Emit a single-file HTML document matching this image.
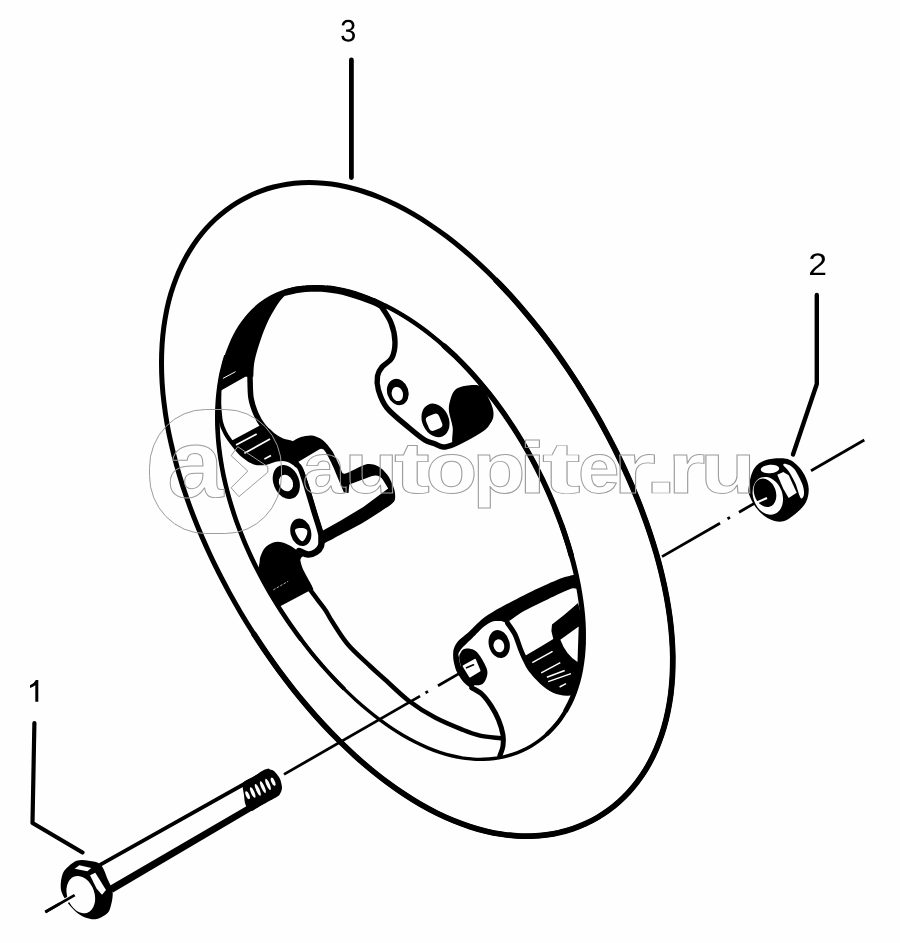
<!DOCTYPE html>
<html><head><meta charset="utf-8"><title>diagram</title>
<style>html,body{margin:0;padding:0;background:#fefefe;}svg{display:block;}</style></head>
<body><svg width="900" height="943" viewBox="0 0 900 943">
<defs><filter id="soft" x="0" y="0" width="900" height="943" filterUnits="userSpaceOnUse"><feGaussianBlur stdDeviation="0.45"/></filter></defs>
<rect width="900" height="943" fill="#fefefe"/>
<g filter="url(#soft)">
<rect width="900" height="943" fill="#fefefe"/>
<path d="M236.7,202.8 C240.5,200.5 244.4,198.3 248.4,196.4 C252.4,194.4 256.5,192.6 260.7,191.1 C264.9,189.5 269.2,188.1 273.6,187.0 C278.1,185.9 282.6,184.9 287.2,184.2 C291.9,183.5 296.6,183.0 301.5,182.7 C306.3,182.5 311.2,182.5 316.2,182.7 C321.3,182.9 326.4,183.4 331.5,184.1 C336.7,184.8 342.0,185.8 347.3,187.0 C352.6,188.3 358.0,189.7 363.5,191.5 C368.9,193.2 374.4,195.3 379.9,197.5 C385.5,199.8 391.0,202.3 396.6,205.1 C402.2,207.9 407.8,210.9 413.4,214.2 C419.0,217.4 424.6,221.0 430.1,224.7 C435.7,228.4 441.3,232.4 446.8,236.6 C452.3,240.8 457.8,245.2 463.3,249.7 C468.7,254.3 474.1,259.1 479.5,264.1 C484.8,269.0 490.1,274.1 495.3,279.4 C500.5,284.7 505.6,290.1 510.7,295.7 C515.7,301.3 520.7,307.0 525.6,312.8 C530.5,318.6 535.3,324.5 540.0,330.6 C544.7,336.6 549.3,342.8 553.9,349.0 C558.4,355.2 562.8,361.6 567.2,368.0 C571.5,374.4 575.8,380.9 579.9,387.4 C584.0,394.0 588.1,400.6 592.0,407.3 C595.9,414.0 599.8,420.7 603.5,427.6 C607.2,434.4 610.8,441.2 614.3,448.1 C617.8,455.1 621.2,462.0 624.4,469.0 C627.6,476.0 630.8,483.1 633.7,490.1 C636.7,497.2 639.6,504.3 642.2,511.4 C644.9,518.5 647.5,525.7 649.8,532.8 C652.2,539.9 654.4,547.0 656.5,554.2 C658.5,561.3 660.4,568.4 662.0,575.4 C663.7,582.5 665.2,589.5 666.5,596.5 C667.8,603.4 668.9,610.4 669.8,617.2 C670.7,624.0 671.4,630.8 671.9,637.5 C672.4,644.1 672.7,650.7 672.8,657.1 C672.8,663.5 672.7,669.9 672.4,676.0 C672.0,682.2 671.5,688.3 670.8,694.2 C670.0,700.1 669.1,705.8 667.9,711.4 C666.8,716.9 665.5,722.3 663.9,727.6 C662.4,732.8 660.7,737.9 658.8,742.7 C657.0,747.6 654.9,752.3 652.7,756.8 C650.5,761.3 648.1,765.6 645.6,769.7 C643.0,773.9 640.3,777.8 637.5,781.6 C634.7,785.3 631.7,788.9 628.6,792.3 C625.5,795.6 622.3,798.8 618.9,801.8 C615.6,804.8 612.1,807.6 608.5,810.3 C604.9,812.9 601.2,815.3 597.3,817.6 C593.5,819.8 589.5,821.9 585.5,823.7 C581.4,825.6 577.3,827.2 573.0,828.7 C568.8,830.1 564.4,831.4 559.9,832.4 C555.5,833.5 550.9,834.3 546.2,834.9 C541.6,835.5 536.8,835.9 532.0,836.1 C527.1,836.2 522.2,836.2 517.2,835.9 C512.1,835.6 507.0,835.1 501.9,834.3 C496.7,833.5 491.4,832.5 486.1,831.2 C480.8,830.0 475.5,828.5 470.1,826.7 C464.7,824.9 459.2,822.9 453.7,820.7 C448.2,818.4 442.7,815.9 437.1,813.2 C431.6,810.5 426.0,807.5 420.4,804.3 C414.9,801.1 409.3,797.6 403.8,793.9 C398.2,790.3 392.7,786.4 387.2,782.3 C381.6,778.2 376.2,773.9 370.7,769.4 C365.3,764.9 359.9,760.2 354.5,755.3 C349.2,750.5 343.9,745.4 338.7,740.3 C333.5,735.1 328.3,729.7 323.2,724.2 C318.1,718.7 313.1,713.1 308.2,707.3 C303.3,701.6 298.4,695.7 293.6,689.7 C288.9,683.7 284.2,677.6 279.6,671.4 C275.0,665.2 270.6,658.9 266.2,652.5 C261.8,646.1 257.5,639.6 253.3,633.1 C249.1,626.5 245.0,619.9 241.0,613.2 C237.1,606.5 233.2,599.7 229.4,592.9 C225.7,586.0 222.0,579.1 218.5,572.2 C215.0,565.2 211.6,558.2 208.4,551.2 C205.2,544.2 202.0,537.1 199.1,530.0 C196.1,522.9 193.3,515.7 190.6,508.6 C188.0,501.5 185.5,494.3 183.1,487.2 C180.8,480.0 178.6,472.9 176.7,465.7 C174.7,458.6 172.9,451.5 171.3,444.4 C169.7,437.4 168.2,430.4 167.0,423.4 C165.8,416.5 164.8,409.6 164.0,402.8 C163.1,396.0 162.5,389.3 162.1,382.6 C161.7,376.0 161.5,369.5 161.5,363.1 C161.5,356.8 161.7,350.5 162.1,344.4 C162.5,338.2 163.1,332.2 163.9,326.4 C164.7,320.6 165.7,314.9 166.8,309.4 C168.0,303.9 169.4,298.5 170.9,293.3 C172.5,288.2 174.2,283.1 176.1,278.3 C177.9,273.5 180.0,268.8 182.2,264.3 C184.4,259.8 186.8,255.5 189.3,251.4 C191.8,247.3 194.4,243.3 197.2,239.5 C200.0,235.8 202.9,232.2 206.0,228.7 C209.0,225.3 212.2,222.1 215.5,219.0 C218.8,215.9 222.2,213.1 225.7,210.4 C229.3,207.7 232.9,205.1 236.7,202.8Z" fill="none" stroke="#000" stroke-width="5.0" stroke-linecap="round" stroke-linejoin="round" />
<path d="M495.3,279.4 C497.8,282.1 505.6,290.1 510.7,295.7 C515.7,301.3 520.7,307.0 525.6,312.8 C530.5,318.6 535.3,324.5 540.0,330.6 C544.7,336.6 549.3,342.8 553.9,349.0 C558.4,355.2 562.8,361.6 567.2,368.0 C571.5,374.4 575.8,380.9 579.9,387.4 C584.0,394.0 588.1,400.6 592.0,407.3 C595.9,414.0 599.8,420.7 603.5,427.6 C607.2,434.4 610.8,441.2 614.3,448.1 C617.8,455.1 621.2,462.0 624.4,469.0 C627.6,476.0 630.8,483.1 633.7,490.1 C636.7,497.2 639.6,504.3 642.2,511.4 C644.9,518.5 647.5,525.7 649.8,532.8 C652.2,539.9 654.4,547.0 656.5,554.2 C658.5,561.3 660.4,568.4 662.0,575.4 C663.7,582.5 665.2,589.5 666.5,596.5 C667.8,603.4 668.9,610.4 669.8,617.2 C670.7,624.0 671.4,630.8 671.9,637.5 C672.4,644.1 672.7,650.7 672.8,657.1 C672.8,663.5 672.7,669.9 672.4,676.0 C672.0,682.2 671.5,688.3 670.8,694.2 C670.0,700.1 669.1,705.8 667.9,711.4 C666.8,716.9 665.5,722.3 663.9,727.6 C662.4,732.8 660.7,737.9 658.8,742.7 C657.0,747.6 654.9,752.3 652.7,756.8 C650.5,761.3 648.1,765.6 645.6,769.7 C643.0,773.9 640.3,777.8 637.5,781.6 C634.7,785.3 631.7,788.9 628.6,792.3 C625.5,795.6 622.3,798.8 618.9,801.8 C615.6,804.8 612.1,807.6 608.5,810.3 C604.9,812.9 601.2,815.3 597.3,817.6 C593.5,819.8 589.5,821.9 585.5,823.7 C581.4,825.6 577.3,827.2 573.0,828.7 C568.8,830.1 564.4,831.4 559.9,832.4 C555.5,833.5 550.9,834.3 546.2,834.9 C541.6,835.5 536.8,835.9 532.0,836.1 C527.1,836.2 522.2,836.2 517.2,835.9 C512.1,835.6 507.0,835.1 501.9,834.3 C496.7,833.5 491.4,832.5 486.1,831.2 C480.8,830.0 475.5,828.5 470.1,826.7 C464.7,824.9 459.2,822.9 453.7,820.7 C448.2,818.4 442.7,815.9 437.1,813.2 C431.6,810.5 426.0,807.5 420.4,804.3 C414.9,801.1 409.3,797.6 403.8,793.9 C398.2,790.3 392.7,786.4 387.2,782.3 C381.6,778.2 376.2,773.9 370.7,769.4 C365.3,764.9 359.9,760.2 354.5,755.3 C349.2,750.5 343.9,745.4 338.7,740.3 C333.5,735.1 328.3,729.7 323.2,724.2 C318.1,718.7 313.1,713.1 308.2,707.3 C303.3,701.6 298.4,695.7 293.6,689.7 C288.9,683.7 284.2,677.6 279.6,671.4 C275.0,665.2 270.6,658.9 266.2,652.5 C261.8,646.1 255.4,636.3 253.3,633.1" fill="none" stroke="#000" stroke-width="5.7" stroke-linecap="butt" stroke-linejoin="round" />
<path d="M268.1,298.8 C270.8,297.1 273.7,295.6 276.6,294.3 C279.6,293.0 282.6,291.8 285.8,290.8 C288.9,289.9 292.1,289.1 295.4,288.4 C298.7,287.8 302.0,287.3 305.5,287.1 C308.9,286.8 312.4,286.7 316.0,286.7 C319.5,286.8 323.1,287.0 326.8,287.4 C330.5,287.8 334.2,288.4 338.0,289.1 C341.7,289.8 345.5,290.7 349.4,291.7 C353.2,292.8 357.1,294.0 361.0,295.3 C364.9,296.7 368.8,298.2 372.7,299.9 C376.7,301.5 380.6,303.4 384.6,305.3 C388.6,307.3 392.6,309.4 396.6,311.7 C400.6,314.0 404.6,316.4 408.6,318.9 C412.6,321.5 416.6,324.2 420.5,327.1 C424.5,330.0 428.5,333.0 432.4,336.1 C436.4,339.3 440.3,342.5 444.2,346.0 C448.1,349.4 451.9,353.0 455.8,356.6 C459.6,360.3 463.3,364.1 467.1,368.1 C470.8,372.0 474.4,376.1 478.0,380.2 C481.6,384.4 485.2,388.6 488.6,393.0 C492.1,397.4 495.5,401.8 498.8,406.4 C502.1,410.9 505.4,415.5 508.5,420.2 C511.7,424.9 514.8,429.6 517.7,434.4 C520.7,439.2 523.6,444.1 526.4,449.0 C529.2,453.9 532.0,458.9 534.6,463.9 C537.2,468.9 539.7,473.9 542.2,478.9 C544.6,484.0 546.9,489.0 549.2,494.1 C551.4,499.2 553.6,504.3 555.6,509.4 C557.7,514.6 559.6,519.7 561.5,524.8 C563.3,529.9 565.1,535.1 566.7,540.2 C568.4,545.3 569.9,550.4 571.3,555.5 C572.8,560.6 574.1,565.7 575.3,570.8 C576.5,575.8 577.5,580.9 578.5,585.9 C579.4,590.9 580.2,595.8 580.9,600.8 C581.6,605.7 582.2,610.5 582.6,615.3 C583.0,620.1 583.3,624.9 583.4,629.5 C583.5,634.2 583.5,638.8 583.4,643.3 C583.2,647.8 582.9,652.2 582.5,656.5 C582.0,660.7 581.4,664.9 580.7,669.0 C580.0,673.1 579.1,677.0 578.1,680.8 C577.0,684.6 575.9,688.3 574.6,691.9 C573.3,695.4 571.9,698.9 570.3,702.2 C568.8,705.4 567.1,708.6 565.3,711.6 C563.5,714.6 561.6,717.5 559.6,720.2 C557.6,722.9 555.4,725.5 553.2,727.9 C551.0,730.4 548.7,732.7 546.3,734.9 C543.9,737.0 541.4,739.1 538.8,740.9 C536.2,742.8 533.5,744.6 530.8,746.2 C528.0,747.8 525.2,749.3 522.2,750.6 C519.3,751.9 516.3,753.1 513.3,754.1 C510.2,755.2 507.0,756.1 503.8,756.8 C500.6,757.5 497.3,758.1 494.0,758.5 C490.6,759.0 487.2,759.2 483.7,759.3 C480.2,759.4 476.6,759.4 473.0,759.1 C469.4,758.9 465.7,758.4 462.0,757.9 C458.2,757.3 454.4,756.5 450.6,755.5 C446.8,754.6 442.9,753.4 439.0,752.1 C435.1,750.8 431.2,749.3 427.2,747.6 C423.2,745.9 419.3,744.1 415.3,742.1 C411.3,740.0 407.3,737.8 403.3,735.5 C399.2,733.1 395.2,730.6 391.2,727.9 C387.2,725.2 383.3,722.4 379.3,719.4 C375.3,716.4 371.4,713.3 367.5,710.0 C363.6,706.8 359.7,703.4 355.8,699.9 C352.0,696.4 348.1,692.8 344.4,689.1 C340.6,685.4 336.8,681.5 333.2,677.6 C329.5,673.7 325.8,669.7 322.2,665.5 C318.7,661.4 315.1,657.2 311.6,652.9 C308.1,648.6 304.7,644.3 301.4,639.8 C298.0,635.4 294.7,630.8 291.5,626.2 C288.2,621.6 285.1,617.0 282.0,612.2 C278.9,607.5 275.9,602.7 273.0,597.8 C270.0,593.0 267.2,588.0 264.5,583.1 C261.7,578.1 259.1,573.1 256.5,568.0 C254.0,563.0 251.5,557.9 249.2,552.7 C246.9,547.6 244.6,542.5 242.6,537.3 C240.5,532.1 238.5,527.0 236.6,521.8 C234.8,516.6 233.1,511.4 231.5,506.3 C229.9,501.1 228.4,495.9 227.1,490.8 C225.8,485.7 224.6,480.6 223.5,475.5 C222.5,470.5 221.6,465.5 220.8,460.5 C220.0,455.6 219.4,450.7 218.8,445.8 C218.3,441.0 217.9,436.2 217.7,431.5 C217.4,426.8 217.3,422.1 217.3,417.6 C217.3,413.0 217.4,408.5 217.7,404.1 C217.9,399.7 218.3,395.4 218.8,391.2 C219.3,387.0 219.9,382.8 220.6,378.8 C221.3,374.8 222.2,370.8 223.2,367.0 C224.1,363.2 225.2,359.4 226.4,355.8 C227.6,352.2 228.9,348.6 230.3,345.3 C231.7,341.9 233.2,338.6 234.9,335.4 C236.5,332.3 238.3,329.2 240.2,326.3 C242.1,323.5 244.1,320.7 246.2,318.1 C248.3,315.5 250.5,313.0 252.8,310.7 C255.2,308.4 257.6,306.2 260.1,304.2 C262.7,302.3 265.3,300.4 268.1,298.8Z" fill="none" stroke="#000" stroke-width="3.4" stroke-linecap="round" stroke-linejoin="round" />
<path d="M326.8,287.4 C328.7,287.7 334.2,288.4 338.0,289.1 C341.7,289.8 345.5,290.7 349.4,291.7 C353.2,292.8 357.1,294.0 361.0,295.3 C364.9,296.7 368.8,298.2 372.7,299.9 C376.7,301.5 380.6,303.4 384.6,305.3 C388.6,307.3 392.6,309.4 396.6,311.7 C400.6,314.0 404.6,316.4 408.6,318.9 C412.6,321.5 416.6,324.2 420.5,327.1 C424.5,330.0 428.5,333.0 432.4,336.1 C436.4,339.3 440.3,342.5 444.2,346.0 C448.1,349.4 451.9,353.0 455.8,356.6 C459.6,360.3 463.3,364.1 467.1,368.1 C470.8,372.0 474.4,376.1 478.0,380.2 C481.6,384.4 485.2,388.6 488.6,393.0 C492.1,397.4 495.5,401.8 498.8,406.4 C502.1,410.9 505.4,415.5 508.5,420.2 C511.7,424.9 514.8,429.6 517.7,434.4 C520.7,439.2 523.6,444.1 526.4,449.0 C529.2,453.9 532.0,458.9 534.6,463.9 C537.2,468.9 539.7,473.9 542.2,478.9 C544.6,484.0 546.9,489.0 549.2,494.1 C551.4,499.2 553.6,504.3 555.6,509.4 C557.7,514.6 559.6,519.7 561.5,524.8 C563.3,529.9 565.1,535.1 566.7,540.2 C568.4,545.3 570.6,553.0 571.3,555.5" fill="none" stroke="#000" stroke-width="4.4" stroke-linecap="butt" stroke-linejoin="round" />
<path d="M444.2,346.0 C446.1,347.7 451.9,353.0 455.8,356.6 C459.6,360.3 463.3,364.1 467.1,368.1 C470.8,372.0 474.4,376.1 478.0,380.2 C481.6,384.4 485.2,388.6 488.6,393.0 C492.1,397.4 495.5,401.8 498.8,406.4 C502.1,410.9 505.4,415.5 508.5,420.2 C511.7,424.9 514.8,429.6 517.7,434.4 C520.7,439.2 523.6,444.1 526.4,449.0 C529.2,453.9 532.0,458.9 534.6,463.9 C537.2,468.9 539.7,473.9 542.2,478.9 C544.6,484.0 546.9,489.0 549.2,494.1 C551.4,499.2 553.6,504.3 555.6,509.4 C557.7,514.6 559.6,519.7 561.5,524.8 C563.3,529.9 565.1,535.1 566.7,540.2 C568.4,545.3 570.6,553.0 571.3,555.5" fill="none" stroke="#000" stroke-width="5.4" stroke-linecap="round" stroke-linejoin="round" />
<path d="M301.4,639.8 C299.7,637.6 294.7,630.8 291.5,626.2 C288.2,621.6 285.1,617.0 282.0,612.2 C278.9,607.5 275.9,602.7 273.0,597.8 C270.0,593.0 267.2,588.0 264.5,583.1 C261.7,578.1 259.1,573.1 256.5,568.0 C254.0,563.0 251.5,557.9 249.2,552.7 C246.9,547.6 244.6,542.5 242.6,537.3 C240.5,532.1 238.5,527.0 236.6,521.8 C234.8,516.6 233.1,511.4 231.5,506.3 C229.9,501.1 228.4,495.9 227.1,490.8 C225.8,485.7 224.6,480.6 223.5,475.5 C222.5,470.5 221.6,465.5 220.8,460.5 C220.0,455.6 219.4,450.7 218.8,445.8 C218.3,441.0 217.9,436.2 217.7,431.5 C217.4,426.8 217.3,422.1 217.3,417.6 C217.3,413.0 217.4,408.5 217.7,404.1 C217.9,399.7 218.3,395.4 218.8,391.2 C219.3,387.0 219.9,382.8 220.6,378.8 C221.3,374.8 222.2,370.8 223.2,367.0 C224.1,363.2 225.8,357.7 226.4,355.8" fill="none" stroke="#000" stroke-width="4.6" stroke-linecap="butt" stroke-linejoin="round" />
<path d="M344.4,689.1 C342.5,687.2 336.8,681.5 333.2,677.6 C329.5,673.7 325.8,669.7 322.2,665.5 C318.7,661.4 315.1,657.2 311.6,652.9 C308.1,648.6 303.1,642.0 301.4,639.8" fill="none" stroke="#000" stroke-width="4.0" stroke-linecap="butt" stroke-linejoin="round" />
<clipPath id="cin"><path d="M268.1,298.8 C270.8,297.1 273.7,295.6 276.6,294.3 C279.6,293.0 282.6,291.8 285.8,290.8 C288.9,289.9 292.1,289.1 295.4,288.4 C298.7,287.8 302.0,287.3 305.5,287.1 C308.9,286.8 312.4,286.7 316.0,286.7 C319.5,286.8 323.1,287.0 326.8,287.4 C330.5,287.8 334.2,288.4 338.0,289.1 C341.7,289.8 345.5,290.7 349.4,291.7 C353.2,292.8 357.1,294.0 361.0,295.3 C364.9,296.7 368.8,298.2 372.7,299.9 C376.7,301.5 380.6,303.4 384.6,305.3 C388.6,307.3 392.6,309.4 396.6,311.7 C400.6,314.0 404.6,316.4 408.6,318.9 C412.6,321.5 416.6,324.2 420.5,327.1 C424.5,330.0 428.5,333.0 432.4,336.1 C436.4,339.3 440.3,342.5 444.2,346.0 C448.1,349.4 451.9,353.0 455.8,356.6 C459.6,360.3 463.3,364.1 467.1,368.1 C470.8,372.0 474.4,376.1 478.0,380.2 C481.6,384.4 485.2,388.6 488.6,393.0 C492.1,397.4 495.5,401.8 498.8,406.4 C502.1,410.9 505.4,415.5 508.5,420.2 C511.7,424.9 514.8,429.6 517.7,434.4 C520.7,439.2 523.6,444.1 526.4,449.0 C529.2,453.9 532.0,458.9 534.6,463.9 C537.2,468.9 539.7,473.9 542.2,478.9 C544.6,484.0 546.9,489.0 549.2,494.1 C551.4,499.2 553.6,504.3 555.6,509.4 C557.7,514.6 559.6,519.7 561.5,524.8 C563.3,529.9 565.1,535.1 566.7,540.2 C568.4,545.3 569.9,550.4 571.3,555.5 C572.8,560.6 574.1,565.7 575.3,570.8 C576.5,575.8 577.5,580.9 578.5,585.9 C579.4,590.9 580.2,595.8 580.9,600.8 C581.6,605.7 582.2,610.5 582.6,615.3 C583.0,620.1 583.3,624.9 583.4,629.5 C583.5,634.2 583.5,638.8 583.4,643.3 C583.2,647.8 582.9,652.2 582.5,656.5 C582.0,660.7 581.4,664.9 580.7,669.0 C580.0,673.1 579.1,677.0 578.1,680.8 C577.0,684.6 575.9,688.3 574.6,691.9 C573.3,695.4 571.9,698.9 570.3,702.2 C568.8,705.4 567.1,708.6 565.3,711.6 C563.5,714.6 561.6,717.5 559.6,720.2 C557.6,722.9 555.4,725.5 553.2,727.9 C551.0,730.4 548.7,732.7 546.3,734.9 C543.9,737.0 541.4,739.1 538.8,740.9 C536.2,742.8 533.5,744.6 530.8,746.2 C528.0,747.8 525.2,749.3 522.2,750.6 C519.3,751.9 516.3,753.1 513.3,754.1 C510.2,755.2 507.0,756.1 503.8,756.8 C500.6,757.5 497.3,758.1 494.0,758.5 C490.6,759.0 487.2,759.2 483.7,759.3 C480.2,759.4 476.6,759.4 473.0,759.1 C469.4,758.9 465.7,758.4 462.0,757.9 C458.2,757.3 454.4,756.5 450.6,755.5 C446.8,754.6 442.9,753.4 439.0,752.1 C435.1,750.8 431.2,749.3 427.2,747.6 C423.2,745.9 419.3,744.1 415.3,742.1 C411.3,740.0 407.3,737.8 403.3,735.5 C399.2,733.1 395.2,730.6 391.2,727.9 C387.2,725.2 383.3,722.4 379.3,719.4 C375.3,716.4 371.4,713.3 367.5,710.0 C363.6,706.8 359.7,703.4 355.8,699.9 C352.0,696.4 348.1,692.8 344.4,689.1 C340.6,685.4 336.8,681.5 333.2,677.6 C329.5,673.7 325.8,669.7 322.2,665.5 C318.7,661.4 315.1,657.2 311.6,652.9 C308.1,648.6 304.7,644.3 301.4,639.8 C298.0,635.4 294.7,630.8 291.5,626.2 C288.2,621.6 285.1,617.0 282.0,612.2 C278.9,607.5 275.9,602.7 273.0,597.8 C270.0,593.0 267.2,588.0 264.5,583.1 C261.7,578.1 259.1,573.1 256.5,568.0 C254.0,563.0 251.5,557.9 249.2,552.7 C246.9,547.6 244.6,542.5 242.6,537.3 C240.5,532.1 238.5,527.0 236.6,521.8 C234.8,516.6 233.1,511.4 231.5,506.3 C229.9,501.1 228.4,495.9 227.1,490.8 C225.8,485.7 224.6,480.6 223.5,475.5 C222.5,470.5 221.6,465.5 220.8,460.5 C220.0,455.6 219.4,450.7 218.8,445.8 C218.3,441.0 217.9,436.2 217.7,431.5 C217.4,426.8 217.3,422.1 217.3,417.6 C217.3,413.0 217.4,408.5 217.7,404.1 C217.9,399.7 218.3,395.4 218.8,391.2 C219.3,387.0 219.9,382.8 220.6,378.8 C221.3,374.8 222.2,370.8 223.2,367.0 C224.1,363.2 225.2,359.4 226.4,355.8 C227.6,352.2 228.9,348.6 230.3,345.3 C231.7,341.9 233.2,338.6 234.9,335.4 C236.5,332.3 238.3,329.2 240.2,326.3 C242.1,323.5 244.1,320.7 246.2,318.1 C248.3,315.5 250.5,313.0 252.8,310.7 C255.2,308.4 257.6,306.2 260.1,304.2 C262.7,302.3 265.3,300.4 268.1,298.8Z"/></clipPath>
<path d="M305.0,287.0 C302.0,288.2 292.1,290.3 287.0,294.0 C281.9,297.7 278.5,302.9 274.7,309.0 C270.9,315.1 267.3,322.1 264.0,330.4 C260.7,338.7 256.8,351.3 255.0,359.0 C253.2,366.7 253.6,373.8 253.3,376.7 L245.3,376.7 L215,394 L190,394 L190,250 L305,250Z" fill="#000" clip-path="url(#cin)"/>
<path d="M223,378.4 L235.5,371.7" stroke="#fefefe" stroke-width="1" fill="none"/>
<path d="M250.0,377.0 C250.2,380.5 250.0,391.8 251.0,398.0 C252.0,404.2 254.0,409.3 256.0,414.0 C258.0,418.7 260.3,422.5 263.0,426.0 C265.7,429.5 268.8,432.5 272.0,435.0 C275.2,437.5 279.0,439.7 282.0,441.0 C285.0,442.3 288.7,442.7 290.0,443.0" fill="none" stroke="#000" stroke-width="5.5" stroke-linecap="round" stroke-linejoin="round" />
<path d="M219.5,388.0 C219.5,390.8 219.1,399.3 219.3,405.0 C219.6,410.7 220.0,417.3 221.0,422.0 C222.0,426.7 223.5,429.5 225.3,433.0 C227.1,436.5 229.1,439.2 232.0,443.0 C234.9,446.8 239.3,452.4 243.0,455.6 C246.7,458.9 250.6,461.3 254.4,462.5 C258.2,463.7 261.9,463.5 265.6,463.0 C269.3,462.5 273.1,460.0 276.7,459.5 C280.3,459.0 284.2,458.9 287.5,459.8 C290.8,460.7 295.2,464.1 296.7,465.0" fill="none" stroke="#000" stroke-width="4.0" stroke-linecap="round" stroke-linejoin="round" />
<path d="M262.0,425.0 C263.1,425.6 267.7,427.5 270.0,429.3 C272.3,431.1 276.6,437.0 279.3,438.7 C282.0,440.4 287.3,442.0 290.2,441.8 C293.1,441.6 298.1,437.8 301.0,437.0 C303.9,436.2 309.1,435.2 312.0,435.6 C314.9,436.0 320.2,438.1 322.9,440.2 C325.6,442.3 329.9,447.5 332.2,451.0 C334.5,454.5 338.3,463.7 340.0,466.7 C341.7,469.7 341.2,474.0 344.7,473.7 C348.2,473.4 361.8,465.2 366.4,464.3 C371.0,463.4 376.0,465.1 378.9,466.7 C381.8,468.3 386.1,472.9 388.2,476.0 C390.3,479.1 393.6,486.7 394.4,490.0 C395.2,493.3 395.7,498.4 394.4,500.9 C393.1,503.4 389.1,505.7 385.0,508.6 C380.9,511.5 369.3,519.1 363.3,522.6 C357.3,526.1 345.2,532.2 340.0,535.0 C334.8,537.8 326.1,542.4 324.0,543.5 L321.5,538.0 L320.0,531.2 L314.0,511.8 L307.0,488.4 L300.5,469.0 L297.0,465.0 L287.5,459.8 L276.7,459.5 L265.6,463.0 L254.4,462.5 L243.0,455.6 L232.0,443.0 L231.0,441.0 L259.0,426.0Z" fill="#000" />
<path d="M298.5,461.8 L319.5,449.3 Q323,447.6 325.6,452 Q331.5,462 337,476 L343.9,492.6 L348.5,493 L349.3,484.5 L372,476 Q379.5,474 383,480 L388.2,488.4 L363.3,507 L340,521 L323,530.4 L317.5,513.3 L310.5,490 L304,471.3Z" fill="#fefefe" />
<path d="M297.0,465.0 C297.6,465.7 298.8,465.1 300.5,469.0 C302.2,472.9 304.8,481.3 307.0,488.4 C309.2,495.5 311.8,504.7 314.0,511.8 C316.2,518.9 318.7,526.3 320.0,531.2 C321.3,536.1 321.7,539.4 322.0,541.0" fill="none" stroke="#000" stroke-width="5.4" stroke-linecap="round" stroke-linejoin="round" />
<path d="M321.5,538.0 C321.4,539.3 321.9,543.7 321.0,546.0 C320.1,548.3 318.2,550.6 316.0,552.0 C313.8,553.4 310.8,554.7 308.0,554.5 C305.2,554.3 300.5,551.6 299.0,551.0" fill="none" stroke="#000" stroke-width="6.5" stroke-linecap="round" stroke-linejoin="round" />
<path d="M236.0,445.0 L256.7,434.0" stroke="#fefefe" stroke-width="1.7" fill="none"/>
<path d="M244.4,453.3 L270.0,439.0" stroke="#fefefe" stroke-width="1.7" fill="none"/>
<path d="M264.4,459.0 L271.0,455.6" stroke="#fefefe" stroke-width="1.7" fill="none"/>
<ellipse cx="286.3" cy="482" rx="12.8" ry="17.6" transform="rotate(-22 286.3 482)" fill="#000"/>
<ellipse cx="286" cy="483" rx="6.8" ry="8.6" transform="rotate(-25 286 483)" fill="#fefefe"/>
<ellipse cx="300.8" cy="532.3" rx="10.3" ry="14" transform="rotate(-15 300.8 532.3)" fill="#000"/>
<path d="M295.0,530.5 C295.0,529.0 296.5,528.7 298.0,528.3 C299.5,527.9 302.4,527.8 304.0,528.3 C305.6,528.8 307.0,529.5 307.3,531.0 C307.6,532.5 306.8,535.3 306.0,537.0 C305.2,538.7 303.8,541.2 302.5,541.3 C301.2,541.4 299.2,539.3 298.0,537.5 C296.8,535.7 295.0,532.0 295.0,530.5Z" fill="#fefefe" />
<path d="M258.5,568.5 C258.7,567.4 259.3,564.0 259.6,562.0 C259.9,560.0 259.6,558.9 260.5,556.5 C261.4,554.1 262.7,550.2 264.8,547.9 C266.9,545.5 270.3,543.3 273.3,542.4 C276.3,541.5 279.7,541.8 282.7,542.4 C285.7,543.0 288.6,544.9 291.2,546.3 C293.8,547.7 295.9,549.8 298.2,551.0 C300.4,552.2 304.3,552.0 304.7,553.3 C305.1,554.6 301.4,557.2 300.7,558.7 C300.0,560.2 300.4,560.5 300.7,562.0 C301.0,563.5 301.6,565.8 302.5,568.0 C303.4,570.2 304.5,572.3 306.0,575.1 C307.5,577.9 310.6,583.4 311.5,585.0 L313.5,589.5 L308,591.5 L279.3,606.7 Z" fill="#000" />
<path d="M273.3,589.9 L288.1,581.3" stroke="#fefefe" stroke-width="0.7" stroke-dasharray="2.5 1.5" fill="none"/>
<path d="M307.5,585.0 C307.9,585.7 308.1,586.6 309.7,589.0 C311.3,591.4 314.6,595.6 317.3,599.3 C320.0,603.0 323.6,607.3 326.0,611.0 C328.4,614.7 328.4,615.8 332.0,621.3 C335.6,626.8 341.2,636.5 347.5,644.0 C353.8,651.5 363.7,660.0 370.0,666.0 C376.3,672.0 379.0,674.2 385.5,680.0 C392.0,685.8 400.7,694.7 409.0,701.0 C417.3,707.3 426.4,713.0 435.5,717.8 C444.6,722.6 455.9,727.0 463.3,730.0 C470.7,733.0 473.8,734.2 480.0,735.6 C486.2,737.0 497.1,737.8 500.5,738.3" fill="none" stroke="#000" stroke-width="4.5" stroke-linecap="round" stroke-linejoin="round" />
<path d="M286.1,292.4 C287.7,292.0 292.4,290.6 295.7,290.0 C298.9,289.4 302.2,288.9 305.6,288.7 C309.0,288.4 312.4,288.3 315.9,288.3 C319.4,288.4 323.0,288.6 326.6,289.0 C330.3,289.4 333.9,289.9 337.7,290.7 C341.4,291.4 345.1,292.3 348.9,293.3 C352.7,294.3 356.6,295.5 360.4,296.9 C364.3,298.2 368.2,299.7 372.1,301.3 C376.0,303.0 382.0,305.9 383.9,306.8" fill="none" stroke="#000" stroke-width="6.4" stroke-linecap="round" stroke-linejoin="round" />
<path d="M380.0,304.5 C381.8,307.5 388.5,316.4 391.0,322.7 C393.5,328.9 394.9,336.1 395.0,342.0 C395.1,347.9 394.0,353.8 391.8,358.0 C389.6,362.2 384.4,364.0 382.0,367.0 C379.6,370.0 378.1,372.2 377.5,376.0 C376.9,379.8 376.8,384.7 378.4,390.0 C380.0,395.3 381.9,401.8 387.0,408.0 C392.1,414.2 402.4,422.2 408.7,427.5 C415.0,432.8 420.5,437.3 424.7,440.0 C428.9,442.7 430.9,442.3 434.0,443.5 C437.1,444.7 439.8,446.9 443.0,447.0 C446.2,447.1 449.1,446.2 453.5,444.4 C457.9,442.6 464.4,439.2 469.5,436.4 C474.6,433.6 480.6,430.2 483.8,427.5 C487.1,424.8 488.1,421.6 489.0,420.4" fill="none" stroke="#000" stroke-width="5.4" stroke-linecap="round" stroke-linejoin="round" />
<path d="M453.5,444.0 C450.6,442.3 453.4,432.9 452.7,427.5 C451.9,422.1 449.4,415.9 449.0,411.5 C448.6,407.1 449.0,404.6 450.0,401.0 C451.0,397.4 452.3,392.5 455.0,390.0 C457.7,387.5 461.7,386.4 466.0,385.8 C470.3,385.2 477.1,384.1 481.0,386.5 C484.9,388.9 487.4,395.6 489.5,400.0 C491.6,404.4 493.5,409.0 493.5,413.0 C493.5,417.0 493.4,419.9 489.5,424.0 C485.6,428.1 476.0,434.2 470.0,437.5 C464.0,440.8 456.4,445.7 453.5,444.0Z" fill="#000" />
<ellipse cx="397.8" cy="392" rx="10.6" ry="13.4" transform="rotate(-18 397.8 392)" fill="#000"/>
<ellipse cx="397.4" cy="394" rx="5.6" ry="7.2" transform="rotate(-15 397.4 394)" fill="#fefefe"/>
<ellipse cx="435.5" cy="420.4" rx="13.2" ry="17.4" transform="rotate(-25 435.5 420.4)" fill="#000"/>
<rect x="427" y="414.5" width="14" height="15.5" rx="4" transform="rotate(-22 434 422)" fill="#fefefe"/>
<path d="M578.0,574.0 C576.0,574.5 568.1,575.9 562.7,577.8 C557.3,579.7 544.7,585.3 537.8,588.5 C530.9,591.7 517.0,598.8 511.3,601.8 C505.6,604.8 498.6,608.5 494.7,610.8 C490.8,613.1 485.4,616.5 482.0,619.3 C478.6,622.1 472.5,628.5 469.3,631.5 C466.1,634.5 459.9,639.1 457.8,641.5 C455.7,643.9 454.2,647.2 453.6,649.6 C453.0,652.0 453.0,656.9 453.4,659.8 C453.8,662.7 455.2,668.4 456.5,671.3 C457.8,674.2 461.0,679.1 463.0,681.5 C465.0,683.9 470.6,688.0 471.8,689.0 L478.0,680.0 C475.9,678.4 464.5,671.0 462.0,668.0 C459.5,665.0 459.5,659.2 459.0,657.3 C458.5,655.4 458.1,654.8 458.5,653.5 C458.9,652.2 460.4,649.9 462.3,647.8 C464.2,645.7 469.7,640.6 472.6,637.8 C475.5,635.0 481.3,628.7 484.0,626.5 C486.7,624.3 490.2,622.1 492.5,621.4 C494.8,620.7 499.0,620.9 501.0,621.0 C503.0,621.1 504.6,623.2 507.5,622.0 C510.4,620.8 517.3,614.8 522.7,611.8 C528.1,608.8 541.6,602.3 548.0,599.2 C554.4,596.1 567.0,590.1 571.0,588.8 C575.0,587.5 577.1,589.2 578.0,589.3Z" fill="#000" />
<path d="M524.0,656.4 L541.8,646.0 L553.3,639.0 L551.4,631.0 L552.0,624.5 L564.7,614.4 L578.0,603.0 L584.0,625.0 L582.0,660.0 L576.0,688.0 L572.4,692.5 L567.3,693.6 L554.6,691.0 L541.8,682.0 L530.4,669.3Z" fill="#000" />
<path d="M560.3,639.8 L578.7,626.5 L577.5,662 Q566,655 560.3,639.8Z" fill="#fefefe" />
<path d="M507.5,623.0 C508.8,624.9 512.9,630.2 515.0,634.4 C517.1,638.6 518.7,644.6 520.2,648.4 C521.7,652.2 522.3,653.8 524.0,657.3 C525.7,660.8 527.4,665.2 530.4,669.3 C533.4,673.4 537.8,678.2 541.8,681.8 C545.8,685.4 550.4,688.8 554.6,690.7 C558.9,692.6 564.3,693.1 567.3,693.3 C570.3,693.5 571.5,692.2 572.4,692.0" fill="none" stroke="#000" stroke-width="5.0" stroke-linecap="round" stroke-linejoin="round" />
<path d="M532.3,662.7 L552.6,651.3" stroke="#fefefe" stroke-width="1.5" fill="none"/>
<path d="M541.2,672.9 L560.3,662.7" stroke="#fefefe" stroke-width="1.5" fill="none"/>
<path d="M546.9,677.2 L564.7,670.5" stroke="#fefefe" stroke-width="1.5" fill="none"/>
<path d="M548.2,681.6 L571.0,673.6" stroke="#fefefe" stroke-width="1.5" fill="none"/>
<path d="M559.6,687.0 L566.0,683.7" stroke="#fefefe" stroke-width="1.5" fill="none"/>
<path d="M561.5,524.8 C562.4,527.4 565.1,535.1 566.7,540.2 C568.4,545.3 569.9,550.4 571.3,555.5 C572.8,560.6 574.1,565.7 575.3,570.8 C576.5,575.8 577.5,580.9 578.5,585.9 C579.4,590.9 580.2,595.8 580.9,600.8 C581.6,605.7 582.2,610.5 582.6,615.3 C583.0,620.1 583.3,624.9 583.4,629.5 C583.5,634.2 583.5,638.8 583.4,643.3 C583.2,647.8 582.9,652.2 582.5,656.5 C582.0,660.7 581.4,664.9 580.7,669.0 C580.0,673.1 579.1,677.0 578.1,680.8 C577.0,684.6 575.9,688.3 574.6,691.9 C573.3,695.4 571.9,698.9 570.3,702.2 C568.8,705.4 566.1,710.0 565.3,711.6" fill="none" stroke="#000" stroke-width="5" stroke-linecap="butt" stroke-linejoin="round" />
<path d="M565.3,711.6 C564.3,713.0 561.6,717.5 559.6,720.2 C557.6,722.9 555.4,725.5 553.2,727.9 C551.0,730.4 547.4,733.7 546.3,734.9" fill="none" stroke="#000" stroke-width="4.2" stroke-linecap="butt" stroke-linejoin="round" />
<ellipse cx="499.2" cy="644" rx="10.4" ry="14.2" transform="rotate(-14 499.2 644)" fill="#000"/>
<ellipse cx="498.9" cy="645.8" rx="5.3" ry="6.6" transform="rotate(-14 498.9 645.8)" fill="#fefefe"/>
<path d="M459.5,660.0 C458.7,655.2 459.9,653.9 461.0,652.0 C462.1,650.1 463.8,648.9 466.0,648.6 C468.2,648.3 471.7,648.8 474.0,650.0 C476.3,651.2 477.9,653.0 480.0,656.0 C482.1,659.0 485.3,664.7 486.5,668.0 C487.7,671.3 487.7,673.3 487.0,676.0 C486.3,678.7 484.7,682.5 482.5,684.0 C480.3,685.5 476.8,685.5 474.0,685.0 C471.2,684.5 468.4,685.2 466.0,681.0 C463.6,676.8 460.3,664.8 459.5,660.0Z" fill="#000" />
<path d="M463.7,666.2 L475.0,659.8 L479.5,670.6 L470.0,676.4Z" fill="#fefefe" stroke="#fefefe" stroke-width="2" stroke-linejoin="round"/>
<path d="M466.5,667.8 L473.5,664.8" fill="none" stroke="#000" stroke-width="1.6" stroke-linecap="round" stroke-linejoin="round" />
<path d="M471.8,687.8 C473.5,688.9 478.8,691.2 482.0,694.2 C485.2,697.2 488.2,701.3 491.0,705.6 C493.8,709.9 496.6,715.1 498.6,720.0 C500.6,724.9 502.3,730.7 503.0,735.0 C503.7,739.3 503.5,742.5 503.0,746.0 C502.5,749.5 500.3,754.3 499.8,756.0" fill="none" stroke="#000" stroke-width="5.0" stroke-linecap="round" stroke-linejoin="round" />
<path d="M45.3,912.0 L74.7,895.1" stroke="#000" stroke-width="2.8" fill="none"/>
<path d="M284.0,774.4 L420.0,696.1" stroke="#000" stroke-width="2.8" fill="none"/>
<path d="M425.5,692.9 L428.0,691.4" stroke="#000" stroke-width="2.8" fill="none"/>
<path d="M438.0,685.7 L462.0,671.9" stroke="#000" stroke-width="2.8" fill="none"/>
<path d="M662.0,556.6 L720.0,523.2" stroke="#000" stroke-width="2.8" fill="none"/>
<path d="M727.5,518.8 L730.0,517.4" stroke="#000" stroke-width="2.8" fill="none"/>
<path d="M739.0,512.2 L766.0,496.7" stroke="#000" stroke-width="2.8" fill="none"/>
<path d="M811.0,470.7 L864.3,440.0" stroke="#000" stroke-width="2.8" fill="none"/>
<path d="M100,864.8 L268,770.6" fill="none" stroke="#000" stroke-width="3.8" stroke-linecap="round" stroke-linejoin="round" />
<path d="M108.5,886.5 L276.0,789.0 L279.0,794.5 L113.0,892.5Z" fill="#000" />
<path d="M243.0,783.0 C244.3,780.5 251.1,778.3 254.0,776.5 C256.9,774.7 262.4,770.4 265.0,769.6 C267.6,768.8 271.5,769.5 273.5,770.7 C275.5,771.9 278.7,776.2 279.8,778.5 C280.9,780.8 282.0,785.6 282.0,787.7 C282.0,789.8 280.7,792.8 280.0,794.0 C279.3,795.2 279.1,795.5 276.7,797.0 C274.3,798.5 265.4,803.1 262.0,805.0 C258.6,806.9 253.4,810.5 251.5,811.0 C249.6,811.5 248.4,809.6 247.5,808.5 C246.6,807.4 245.5,804.8 245.0,803.0 C244.5,801.2 244.3,797.7 244.0,795.0 C243.7,792.3 241.7,785.5 243.0,783.0Z" fill="#000" />
<ellipse cx="247.6" cy="795.2" rx="1.7" ry="4.2" transform="rotate(-24 247.6 795.2)" fill="#fefefe"/>
<ellipse cx="252.7" cy="792.5" rx="1.7" ry="5.8" transform="rotate(-24 252.7 792.5)" fill="#fefefe"/>
<ellipse cx="257.8" cy="789.8" rx="1.7" ry="6.4" transform="rotate(-24 257.8 789.8)" fill="#fefefe"/>
<ellipse cx="262.9" cy="787.1" rx="1.7" ry="6.4" transform="rotate(-24 262.9 787.1)" fill="#fefefe"/>
<ellipse cx="268.0" cy="784.4" rx="1.7" ry="6.0" transform="rotate(-24 268.0 784.4)" fill="#fefefe"/>
<ellipse cx="273.1" cy="781.7" rx="1.7" ry="4.4" transform="rotate(-24 273.1 781.7)" fill="#fefefe"/>
<path d="M60.7,886.0 C60.7,883.2 61.1,878.9 62.0,876.0 C62.9,873.1 63.5,871.2 66.0,868.7 C68.5,866.2 72.9,862.0 76.7,860.7 C80.5,859.4 84.7,860.0 88.7,860.7 C92.7,861.4 97.5,861.5 100.7,864.7 C103.9,867.9 106.0,875.3 108.0,880.0 C110.0,884.7 112.4,887.9 112.7,892.7 C113.0,897.5 111.3,904.9 110.0,908.7 C108.7,912.5 107.2,913.5 104.7,915.3 C102.2,917.1 98.9,919.1 95.3,919.3 C91.7,919.5 86.8,918.2 83.3,916.7 C79.8,915.2 76.7,912.5 74.0,910.0 C71.3,907.5 69.0,904.8 67.0,902.0 C65.0,899.2 63.0,895.7 62.0,893.0 C61.0,890.3 60.7,888.8 60.7,886.0Z" fill="#000" />
<ellipse cx="80.8" cy="894.6" rx="13.6" ry="19.2" transform="rotate(-20 80.8 894.6)" fill="#fefefe"/>
<path d="M74.7,868.7 L79.3,865.3 L91.3,868.0 L87.3,871.3Z" fill="#fefefe" />
<path d="M90.0,875.3 L95.3,872.7 L106.0,890.0 L102.0,894.7 L96.7,888.7Z" fill="#fefefe" />
<path d="M60,904 L74.7,896" stroke="#fefefe" stroke-width="5.5" fill="none"/>
<path d="M45.3,912.0 L74.7,895.1" stroke="#000" stroke-width="2.8" fill="none"/>
<path d="M748.7,487.3 C749.4,482.6 751.1,473.2 754.0,468.7 C756.9,464.1 760.7,461.7 766.0,460.0 C771.3,458.3 780.9,457.9 786.0,458.7 C791.1,459.5 793.6,461.9 796.7,464.7 C799.8,467.5 802.7,471.3 804.7,475.3 C806.7,479.3 808.5,484.2 808.7,488.7 C808.9,493.1 808.0,498.0 806.0,502.0 C804.0,506.0 800.5,509.5 796.7,512.7 C792.9,515.9 787.8,520.2 783.3,521.3 C778.8,522.4 774.2,521.2 770.0,519.3 C765.8,517.4 761.3,513.8 758.0,510.0 C754.7,506.2 751.5,500.5 750.0,496.7 C748.5,492.9 748.0,492.0 748.7,487.3Z" fill="#000" />
<ellipse cx="770" cy="469" rx="9.3" ry="4.3" transform="rotate(-5 770 469)" fill="#fefefe"/>
<path d="M777.3,474.7 L783.3,472.0 L788.7,475.3 L796.7,492.7 L788.7,498.0 L783.3,488.7Z" fill="#fefefe" />
<path d="M786.0,464.0 C787.8,464.6 791.3,465.5 794.0,468.7 C796.7,471.9 800.3,479.1 802.0,483.3 C803.7,487.5 804.2,491.6 804.0,494.0 C803.8,496.4 802.2,499.8 800.7,498.0 C799.2,496.2 797.3,487.8 795.3,483.3 C793.3,478.9 790.7,474.3 788.7,471.3 C786.7,468.3 783.8,466.5 783.3,465.3 C782.8,464.1 784.2,463.4 786.0,464.0Z" fill="#fefefe" />
<ellipse cx="767.8" cy="495.8" rx="14.6" ry="19.4" transform="rotate(-20 767.8 495.8)" fill="#fefefe"/>
<ellipse cx="765" cy="492.8" rx="10.8" ry="14.6" transform="rotate(-20 765 492.8)" fill="#000"/>
<path d="M757,502.5 L767,498" stroke="#fefefe" stroke-width="2" fill="none"/>
<path transform="translate(340.20,41.40) scale(0.01411,-0.01510)" d="M1049 389Q1049 194 925.0 87.0Q801 -20 571 -20Q357 -20 229.5 76.5Q102 173 78 362L264 379Q300 129 571 129Q707 129 784.5 196.0Q862 263 862 395Q862 510 773.5 574.5Q685 639 518 639H416V795H514Q662 795 743.5 859.5Q825 924 825 1038Q825 1151 758.5 1216.5Q692 1282 561 1282Q442 1282 368.5 1221.0Q295 1160 283 1049L102 1063Q122 1236 245.5 1333.0Q369 1430 563 1430Q775 1430 892.5 1331.5Q1010 1233 1010 1057Q1010 922 934.5 837.5Q859 753 715 723V719Q873 702 961.0 613.0Q1049 524 1049 389Z" fill="#000"/>
<path transform="translate(808.31,275.00) scale(0.01640,-0.01524)" d="M103 0V127Q154 244 227.5 333.5Q301 423 382.0 495.5Q463 568 542.5 630.0Q622 692 686.0 754.0Q750 816 789.5 884.0Q829 952 829 1038Q829 1154 761.0 1218.0Q693 1282 572 1282Q457 1282 382.5 1219.5Q308 1157 295 1044L111 1061Q131 1230 254.5 1330.0Q378 1430 572 1430Q785 1430 899.5 1329.5Q1014 1229 1014 1044Q1014 962 976.5 881.0Q939 800 865.0 719.0Q791 638 582 468Q467 374 399.0 298.5Q331 223 301 153H1036V0Z" fill="#000"/>
<path d="M38.3,680 L38.3,701.7 L35.3,701.7 L35.3,685.3 Q33.2,687 30,688 L30,685.3 Q34,683.8 35.9,680Z" fill="#000" />
<path d="M351.4,60 L351.4,177.5" fill="none" stroke="#000" stroke-width="4.8" stroke-linecap="round" stroke-linejoin="round" />
<path d="M816.8,295 L816.8,384 L793,454.5" fill="none" stroke="#000" stroke-width="4.4" stroke-linecap="round" stroke-linejoin="round" />
<path d="M34.4,723 L32.5,823 L82.5,852.5" fill="none" stroke="#000" stroke-width="4.2" stroke-linecap="round" stroke-linejoin="round" />
</g>
<g fill="none" stroke="#9c9c9c" stroke-width="1">
<rect x="149.5" y="409.5" width="132" height="124" rx="56" ry="58"/>
<text transform="translate(302.45,492.5) scale(1.0762,1.000)" font-family="Liberation Sans, sans-serif" font-weight="bold" font-size="72" vector-effect="non-scaling-stroke">a</text>
<text transform="translate(344.52,492.5) scale(1.2279,1.000)" font-family="Liberation Sans, sans-serif" font-weight="bold" font-size="72" vector-effect="non-scaling-stroke">u</text>
<text transform="translate(394.00,492.5) scale(1.5013,1.000)" font-family="Liberation Sans, sans-serif" font-weight="bold" font-size="72" vector-effect="non-scaling-stroke">t</text>
<text transform="translate(425.39,492.5) scale(1.1804,1.000)" font-family="Liberation Sans, sans-serif" font-weight="bold" font-size="72" vector-effect="non-scaling-stroke">o</text>
<text transform="translate(472.24,492.5) scale(1.2125,1.000)" font-family="Liberation Sans, sans-serif" font-weight="bold" font-size="72" vector-effect="non-scaling-stroke">p</text>
<text transform="translate(518.15,492.5) scale(1.4193,1.000)" font-family="Liberation Sans, sans-serif" font-weight="bold" font-size="72" vector-effect="non-scaling-stroke">i</text>
<text transform="translate(541.90,492.5) scale(1.6181,1.000)" font-family="Liberation Sans, sans-serif" font-weight="bold" font-size="72" vector-effect="non-scaling-stroke">t</text>
<text transform="translate(577.89,492.5) scale(1.0352,1.000)" font-family="Liberation Sans, sans-serif" font-weight="bold" font-size="72" vector-effect="non-scaling-stroke">e</text>
<text transform="translate(612.26,492.5) scale(1.5648,1.000)" font-family="Liberation Sans, sans-serif" font-weight="bold" font-size="72" vector-effect="non-scaling-stroke">r</text>
<text transform="translate(643.46,492.5) scale(1.7435,1.000)" font-family="Liberation Sans, sans-serif" font-weight="bold" font-size="72" vector-effect="non-scaling-stroke">.</text>
<text transform="translate(667.57,492.5) scale(1.3528,1.000)" font-family="Liberation Sans, sans-serif" font-weight="bold" font-size="72" vector-effect="non-scaling-stroke">r</text>
<text transform="translate(700.35,492.5) scale(1.2652,1.000)" font-family="Liberation Sans, sans-serif" font-weight="bold" font-size="72" vector-effect="non-scaling-stroke">u</text>
<text transform="translate(167.36,497.0) scale(1.0553,1.000)" font-family="Liberation Sans, sans-serif" font-weight="bold" font-size="96" vector-effect="non-scaling-stroke">a</text>
<path d="M237.8,446.7 L267.8,466.7 L267.8,472.2 L238.9,496.7 L231.1,487.8 L247.8,471.1 L231.1,455.6Z"/>
</g>
</svg></body></html>
